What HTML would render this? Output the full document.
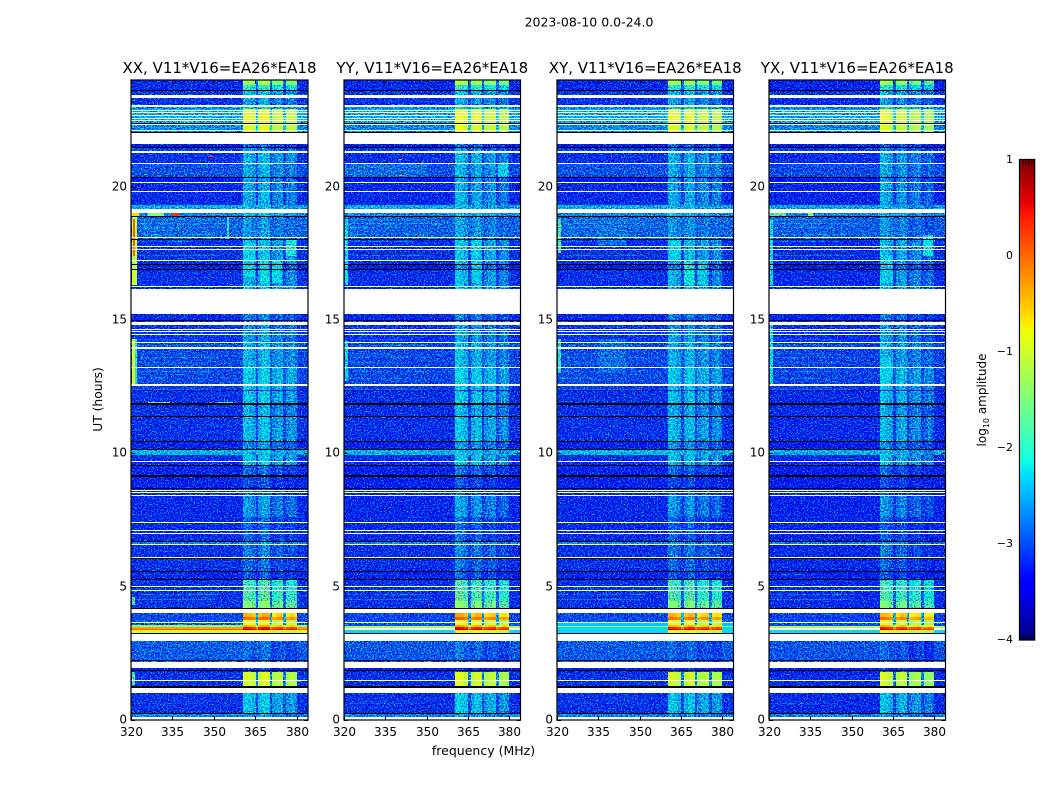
<!DOCTYPE html>
<html lang="en">
<head>
<meta charset="utf-8">
<title>2023-08-10 dynamic spectra</title>
<style>
html,body{margin:0;padding:0;background:#fff}
svg{display:block}
text{font-family:"DejaVu Sans","Liberation Sans",sans-serif;fill:#000}
</style>
</head>
<body>
<svg id="figure" xmlns="http://www.w3.org/2000/svg" width="1050" height="800" viewBox="0 0 1050 800">
  <defs id="defs"></defs>
  <text x="589" y="26.5" font-size="12.5" text-anchor="middle">2023-08-10 0.0-24.0</text>
  <text x="483.5" y="755" font-size="12.5" text-anchor="middle">frequency (MHz)</text>
  <text transform="translate(102,399.5) rotate(-90)" font-size="12.3" text-anchor="middle">UT (hours)</text>
  <text transform="translate(986,400) rotate(-90)" font-size="12" text-anchor="middle">log<tspan font-size="8" dy="3">10</tspan><tspan dy="-3"> amplitude</tspan></text>
</svg>
<script>
// ---- chart data ----
const panelTitles = ["XX, V11*V16=EA26*EA18", "YY, V11*V16=EA26*EA18", "XY, V11*V16=EA26*EA18", "YX, V11*V16=EA26*EA18"];
const freqTicks = [320, 335, 350, 365, 380];
const hourTicks = [0, 5, 10, 15, 20];
const colorbarTicks = [1, 0, -1, -2, -3, -4];
const freqRange = [320, 384];
const hourRange = [0, 24];
const levelRange = [-4, 1];

// Channel groups in MHz; class: o = out of band, g = gap, 0-3 = receiver block
const channelEdges = [320, 360.4, 362, 363.6, 365.1, 365.9, 367.4, 368.9, 370.2, 370.9, 372.3, 373.7, 375.1, 376.2, 377.5, 378.8, 379.9, 384];
const channelClass = ["o", 0, 0, 0, "g", 1, 1, 1, "g", 2, 2, 2, "g", 3, 3, 3, "o"];
const channelSubGain = [0, 0.08, 0.02, -0.1, 0, -0.08, 0.08, 0.03, 0, -0.1, 0.02, 0.08, 0, -0.05, 0.07, -0.05, 0];
const outOfBandRanges = [[320, 360.4], [379.9, 384]];

// Per-panel level offsets (log10 amplitude)
const panelOutOffset = [0, -0.02, 0, -0.05];
const panelInOffset = [0, 0.02, -0.02, -0.02];
const blockGain = [[0.05, 0.1, -0.1, -0.15], [0.1, 0, -0.1, -0.2], [0.05, 0.05, -0.1, -0.15], [0.05, -0.05, -0.2, -0.3]];

// [start hour, end hour, out-of-band level, in-band level]
const levelBands = [
  [0.00, 0.25, -2.7, -2.7], [0.25, 1.02, -3.2, -2.45], [1.02, 1.80, -3.2, -1.05], [1.80, 1.96, -3.35, -3.2],
  [1.96, 2.96, -2.95, -2.95], [2.96, 3.37, -0.9, -0.9], [3.37, 3.43, 0.1, 0.6], [3.43, 3.49, -0.3, 0.35],
  [3.49, 3.55, -1.4, -0.5], [3.55, 3.74, -3.0, -1.0], [3.74, 3.85, -3.05, -0.1], [3.85, 4.0, -3.05, -0.5],
  [4.0, 4.45, -3.2, -1.55], [4.45, 4.9, -3.2, -1.85], [4.9, 5.27, -3.2, -1.95], [5.27, 5.6, -3.3, -3.05],
  [5.6, 6.04, -3.2, -2.95], [6.04, 6.55, -3.2, -2.85], [6.55, 6.7, -2.7, -2.65], [6.7, 7.6, -3.25, -3.0],
  [7.6, 8.4, -3.25, -2.7], [8.4, 8.68, -3.25, -3.1], [8.68, 9.15, -3.3, -3.1], [9.15, 9.55, -3.3, -2.95],
  [9.55, 9.95, -3.2, -2.45], [9.95, 10.15, -2.45, -2.5], [10.15, 10.45, -3.3, -2.75], [10.45, 11.37, -3.2, -2.5],
  [11.37, 11.85, -3.2, -2.6], [11.85, 12.32, -3.2, -2.45], [12.32, 12.37, -3.75, -3.4], [12.37, 12.6, -3.15, -2.45],
  [12.6, 13.25, -3.05, -2.4], [13.25, 14.12, -3.05, -2.55], [14.12, 14.45, -3.2, -2.65], [14.45, 15.0, -3.15, -2.7],
  [15.0, 15.22, -3.25, -2.85], [15.22, 16.16, -3.2, -2.7], [16.16, 16.91, -3.2, -2.55], [16.91, 17.08, -3.35, -2.8],
  [17.08, 18.02, -3.2, -2.5], [18.02, 18.88, -2.9, -2.7], [18.88, 19.01, -2.7, -2.5], [19.01, 19.33, -2.5, -2.5],
  [19.33, 20.15, -3.25, -2.6], [20.15, 20.34, -3.4, -2.7], [20.34, 20.88, -3.0, -2.6], [20.88, 21.3, -3.2, -2.55],
  [21.3, 21.47, -3.1, -2.8], [21.47, 21.6, -3.4, -3.0], [21.6, 22.33, -2.7, -1.0], [22.33, 22.9, -2.5, -0.95],
  [22.9, 23.06, -2.7, -2.4], [23.06, 23.33, -3.2, -2.65], [23.33, 23.6, -3.15, -2.5], [23.6, 23.8, -3.25, -2.05],
  [23.8, 24.0, -3.25, -1.35]
];

// Per-panel out-of-band overrides: [panel, start hour, end hour, level]; null = blank
const outOfBandOverrides = [
  [1, 3.27, 3.39, -2.3], [1, 3.39, 3.45, null], [1, 3.45, 3.53, -1.2], [1, 3.53, 3.55, -3.0],
  [3, 3.27, 3.39, -2.3], [3, 3.39, 3.45, null], [3, 3.45, 3.53, -1.2], [3, 3.53, 3.55, -3.0],
  [2, 3.27, 3.47, -2.3], [2, 3.47, 3.53, -1.0], [2, 3.53, 3.62, -2.4]
];

// [panel, start hour, end hour, start MHz, end MHz, level]
const localPatches = [
  [0, 12.6, 14.3, 320.5, 321.3, -1.0], [0, 12.6, 14.3, 321.3, 322.2, -2.0], [0, 16.3, 18.85, 320.5, 322, -1.0], [0, 17, 18.8, 320.8, 321.3, 0.1],
  [0, 18.88, 19, 320, 323, -0.6], [0, 18.88, 19, 335, 337.5, 0.3], [0, 18.88, 19, 326, 332, -1.5], [0, 18.02, 18.85, 354.8, 355.3, -2.0],
  [0, 11.9, 11.93, 326, 334, -1.7], [0, 11.9, 11.93, 351, 357, -1.6], [0, 11.9, 11.93, 348.3, 349, 0],
  [0, 20.84, 20.87, 347, 351, -0.3], [0, 21.13, 21.16, 348, 350, 0.2], [0, 4.3, 4.6, 320.5, 321.5, -1.8],
  [0, 1.3, 1.8, 320.5, 321.5, -1.8], [0, 16.9, 17.4, 320.3, 321.5, -1.2],
  [0, 17.4, 18.0, 375.9, 379.6, -2.1], [0, 16.6, 17.9, 360.6, 364.8, -2.25], [0, 16.4, 17.2, 366.5, 369.5, -2.2], [0, 16.4, 17.2, 371, 374.5, -2.25],
  [1, 12.7, 14.2, 320.5, 321.3, -2.2], [1, 16.3, 18.8, 320.5, 321.3, -2.2], [1, 20.34, 20.88, 320, 350, -2.85],
  [1, 21.0, 21.03, 340, 341, -0.4], [1, 20.4, 20.43, 340, 341, -0.4], [1, 17.4, 18.0, 366, 369.5, -2.3],
  [1, 20.34, 20.88, 376, 379.6, -2.3], [1, 16.4, 17.2, 366.5, 369.5, -2.3],
  [2, 17.5, 18.8, 320.4, 321.6, -1.75], [2, 13, 14.3, 320.4, 321.6, -2.0], [2, 13, 14.3, 335, 345, -2.85],
  [2, 17.8, 18.8, 335, 345, -2.8], [2, 20.85, 20.88, 340, 343, -0.8], [2, 17.3, 18.0, 360.6, 364.8, -2.25],
  [2, 16.3, 17.2, 366, 369.5, -2.15], [2, 16.3, 17.2, 371, 374.5, -2.3],
  [3, 16.3, 18.8, 320.5, 321.3, -2.2], [3, 12.6, 14.8, 320.5, 321.3, -2.2],
  [3, 20.85, 20.88, 338, 340, -0.9], [3, 17.4, 18.2, 376, 379.6, -2.2], [3, 16.4, 17.4, 360.6, 364.8, -2.3],
  [3, 12.9, 13.6, 360.6, 364.8, -2.3], [3, 18.05, 18.08, 353, 353.5, -0.8], [3, 17.0, 17.03, 353, 353.5, -0.8],
  [3, 18.88, 19.0, 320, 326, -1.7], [3, 18.88, 19.0, 334, 336, -1.5]
];

// Thin streaks common to all panels: [hour, start MHz, end MHz, level]
const sharedStreaks = [
  [0.6, 320, 345, -3.0], [4.5, 320, 350, -2.8], [4.7, 320, 352, -2.85], [5.45, 320, 340, -3.05],
  [12.4, 320, 350, -2.85], [12.8, 320, 345, -2.85], [13.05, 322, 350, -2.8], [13.4, 322, 345, -2.85],
  [13.6, 322, 352, -2.8], [13.75, 322, 340, -2.85], [14.05, 322, 350, -2.85], [14.25, 322, 345, -2.9],
  [17.4, 322, 352, -2.85], [17.95, 322, 345, -2.85], [18.2, 322, 350, -2.7], [18.45, 322, 345, -2.7],
  [18.6, 322, 355, -2.65], [18.75, 322, 350, -2.65]
];

// Flagged (blank) time ranges, in hours
const whiteFlags = [
  [0, 0.11], [1.02, 1.2], [1.45, 1.49], [1.96, 2.19], [2.97, 3.22], [3.63, 3.66], [4.03, 4.16],
  [4.84, 4.88], [4.99, 5.03], [6.08, 6.12], [6.55, 6.59], [6.98, 7.01], [7.11, 7.14], [7.37, 7.41], [8.4, 8.44],
  [8.52, 8.56], [8.6, 8.64], [9.66, 9.73], [12.53, 12.55], [12.57, 12.6], [13.22, 13.25], [13.93, 13.97],
  [14.12, 14.16], [14.44, 14.47], [14.55, 14.59], [14.64, 14.68], [14.81, 14.92], [15.22, 16.16], [16.22, 16.26],
  [17.21, 17.25], [17.65, 17.68], [17.73, 17.76], [18.08, 18.11], [19.01, 19.16], [19.81, 19.84],
  [20.14, 20.17], [20.87, 20.9], [21.28, 21.32], [21.6, 22.01], [22.11, 22.14], [22.31, 22.35], [22.45, 22.49],
  [22.54, 22.58], [22.65, 22.69], [22.76, 22.8], [22.84, 22.88], [22.99, 23.06], [23.33, 23.44]
];

// Zero-amplitude (black) time ranges, in hours
const blackFlags = [
  [0.24, 0.26], [1.21, 1.28], [1.84, 1.88], [2.21, 2.25], [3.22, 3.27], [4.17, 4.2], [5.25, 5.29], [5.55, 5.6], [6.04, 6.06],
  [6.68, 6.71], [8.66, 8.7], [9.13, 9.17], [9.53, 9.56], [10.13, 10.16], [10.44, 10.46], [11.35, 11.4], [11.83, 11.87],
  [14.96, 15.0], [16.9, 16.93], [17.06, 17.1], [18.0, 18.04], [18.86, 18.9], [20.32, 20.36], [21.46, 21.49],
  [22.03, 22.05], [22.35, 22.39], [23.58, 23.62]
];

// Jet colormap anchors: [position, value]
const jetRed = [[0, 0], [0.35, 0], [0.66, 1], [0.89, 1], [1, 0.5]];
const jetGreen = [[0, 0], [0.125, 0], [0.375, 1], [0.64, 1], [0.91, 0], [1, 0]];
const jetBlue = [[0, 0.5], [0.11, 1], [0.34, 1], [0.65, 0], [1, 0]];

// ---- layout ----
const panelLefts = [131, 344, 557, 769];
const panelWidths = [177, 176.5, 176.5, 176.5];
const plotTop = 80;
const plotBottom = 720;
const cbarLeft = 1020;
const cbarRight = 1035;
const cbarTop = 160;
const cbarBottom = 640;
const NS = "http://www.w3.org/2000/svg";
const svg = document.getElementById("figure");
const defs = document.getElementById("defs");

function mk(tag, attrs, parent) {
  const el = document.createElementNS(NS, tag);
  for (const k in attrs) el.setAttribute(k, attrs[k]);
  parent.appendChild(el);
  return el;
}
function xScale(panel, f) {
  return panelLefts[panel] + (f - freqRange[0]) / (freqRange[1] - freqRange[0]) * panelWidths[panel];
}
function yScale(h) {
  return plotBottom - (h - hourRange[0]) / (hourRange[1] - hourRange[0]) * (plotBottom - plotTop);
}
function cbarScale(v) {
  return cbarBottom - (v - levelRange[0]) / (levelRange[1] - levelRange[0]) * (cbarBottom - cbarTop);
}
function interp(anchors, t) {
  for (let i = 1; i < anchors.length; i++) {
    if (t <= anchors[i][0]) {
      const a = anchors[i - 1], b = anchors[i];
      return a[1] + (b[1] - a[1]) * (t - a[0]) / (b[0] - a[0]);
    }
  }
  return anchors[anchors.length - 1][1];
}
function jet(level) {
  const t = Math.max(0, Math.min(1, (level - levelRange[0]) / (levelRange[1] - levelRange[0])));
  const c = [jetRed, jetGreen, jetBlue].map(function (a) { return Math.round(interp(a, t) * 255); });
  return "rgb(" + c.join(",") + ")";
}

// Fine-grain texture is a purely visual filter; it carries no chart values.
function addGrainFilter(id, seed) {
  const f = mk("filter", {id: id, x: 0, y: 0, width: 1, height: 1, "color-interpolation-filters": "sRGB"}, defs);
  mk("feTurbulence", {type: "fractalNoise", baseFrequency: "0.7", numOctaves: 2, seed: seed, result: "n"}, f);
  mk("feColorMatrix", {in: "n", type: "matrix", values: "0 0 0 0 0.5  1 0 0 0 0  0 0.7 0 0 0.15  0 0 0 0 1", result: "m"}, f);
  mk("feComposite", {in: "SourceGraphic", in2: "m", operator: "arithmetic", k1: 0, k2: 1, k3: 2.6, k4: -1.3, result: "a"}, f);
  mk("feComposite", {in: "a", in2: "SourceAlpha", operator: "in"}, f);
}

function timeRect(parent, x, width, h0, h1, fill) {
  const y0 = Math.round(yScale(h1));
  const y1 = Math.round(yScale(h0));
  return mk("rect", {x: x, y: y0, width: width, height: Math.max(1, y1 - y0), fill: fill, "shape-rendering": "crispEdges"}, parent);
}
function cell(parent, panel, f0, f1, h0, h1, level) {
  const x0 = Math.round(xScale(panel, f0));
  const x1 = Math.round(xScale(panel, f1));
  const r = timeRect(parent, x0, Math.max(1, x1 - x0), h0, h1, jet(level));
  
  
  return r;
}

panelTitles.forEach(function (title, p) {
  const left = panelLefts[p];
  const right = left + panelWidths[p];
  const panel = mk("g", {}, svg);
  
  

  addGrainFilter("grain-" + p, 5 + p * 7);
  addGrainFilter("grain-patch-" + p, 31 + p * 3);

  const noisy = mk("g", {filter: "url(#grain-" + p + ")"}, panel);
  
  
  const smooth = mk("g", {}, panel);
  
  
  const patchNoisy = mk("g", {filter: "url(#grain-patch-" + p + ")"}, panel);
  
  
  const patchSmooth = mk("g", {}, panel);
  
  

  levelBands.forEach(function (b) {
    const out = b[2] + panelOutOffset[p];
    const inb = b[3] + panelInOffset[p];
    channelClass.forEach(function (cls, c) {
      let level;
      if (cls === "o") level = out;
      else if (cls === "g") level = out + 0.2 * (inb - out);
      else level = inb + blockGain[p][cls] + channelSubGain[c];
      cell(level > -1.6 ? smooth : noisy, p, channelEdges[c], channelEdges[c + 1], b[0], b[1], level);
    });
  });

  sharedStreaks.forEach(function (s) {
    cell(patchNoisy, p, s[1], s[2], s[0], s[0] + 0.03, s[3]);
  });

  localPatches.forEach(function (q) {
    if (q[0] !== p) return;
    cell(q[5] > -1.6 ? patchSmooth : patchNoisy, p, q[3], q[4], q[1], q[2], q[5]);
  });

  outOfBandOverrides.forEach(function (o) {
    if (o[0] !== p) return;
    outOfBandRanges.forEach(function (rng) {
      if (o[3] === null) {
        const x0 = Math.round(xScale(p, rng[0]));
        const blank = timeRect(patchSmooth, x0, Math.round(xScale(p, rng[1])) - x0, o[1], o[2], "#fff");
        
        
      } else {
        cell(patchSmooth, p, rng[0], rng[1], o[1], o[2], o[3]);
      }
    });
  });

  whiteFlags.forEach(function (w) {
    const r = timeRect(panel, left, panelWidths[p], w[0], w[1], "#fff");
    
    
  });
  blackFlags.forEach(function (w) {
    const r = timeRect(panel, left, panelWidths[p], w[0], w[1], "#000");
    
    
  });

  const frame = mk("rect", {x: left, y: plotTop, width: panelWidths[p], height: plotBottom - plotTop, fill: "none", stroke: "#000", "stroke-width": 1.2}, panel);
  
  

  const titleEl = mk("text", {x: (left + right) / 2, y: 73, "font-size": 15, "text-anchor": "middle"}, panel);
  titleEl.textContent = title;
  
  

  freqTicks.forEach(function (t) {
    const x = Math.round(xScale(p, t)) + 0.5;
    const tickB = mk("line", {x1: x, x2: x, y1: plotBottom, y2: plotBottom - 4, stroke: "#000"}, panel);
    
    
    const tickT = mk("line", {x1: x, x2: x, y1: plotTop, y2: plotTop + 4, stroke: "#000"}, panel);
    
    
    const label = mk("text", {x: x, y: 736, "font-size": 12, "text-anchor": "middle"}, panel);
    label.textContent = t;
    
    
  });

  hourTicks.forEach(function (t) {
    const y = Math.round(yScale(t)) + 0.5;
    const tickL = mk("line", {x1: left, x2: left + 4, y1: y, y2: y, stroke: "#000"}, panel);
    
    
    const tickR = mk("line", {x1: right, x2: right - 4, y1: y, y2: y, stroke: "#000"}, panel);
    
    
    const label = mk("text", {x: left - 4, y: y + 3.2, "font-size": 12, "text-anchor": "end"}, panel);
    label.textContent = t;
    
    
  });
});

// ---- colorbar ----
const cbar = mk("g", {}, svg);


for (let py = cbarTop; py < cbarBottom; py++) {
  const v = levelRange[1] - (py + 0.5 - cbarTop) / (cbarBottom - cbarTop) * (levelRange[1] - levelRange[0]);
  const s = mk("rect", {x: cbarLeft, y: py, width: cbarRight - cbarLeft, height: 1, fill: jet(v), "shape-rendering": "crispEdges"}, cbar);
  
  
}
const cbarHalo = mk("rect", {x: cbarLeft - 1, y: cbarTop - 1, width: cbarRight - cbarLeft + 1.5, height: cbarBottom - cbarTop + 1.5, fill: "none", stroke: "#bbb", "stroke-width": 1}, cbar);


const cbarFrame = mk("rect", {x: cbarLeft - 0.5, y: cbarTop - 0.5, width: cbarRight - cbarLeft, height: cbarBottom - cbarTop + 0.5, fill: "none", stroke: "#000", "stroke-width": 1}, cbar);


for (let k = 1; k < 5; k++) {
  const x = cbarLeft + k * (cbarRight - cbarLeft) / 5;
  const mt = mk("line", {x1: x, x2: x, y1: cbarTop, y2: cbarTop + 5, stroke: "#000"}, cbar);
  
  
  const mb = mk("line", {x1: x, x2: x, y1: cbarBottom, y2: cbarBottom - 5, stroke: "#000"}, cbar);
  
  
}
colorbarTicks.forEach(function (t) {
  const label = mk("text", {x: 1013, y: cbarScale(t) + 3, "font-size": 11, "text-anchor": "end"}, cbar);
  label.textContent = t < 0 ? "\u2212" + Math.abs(t) : String(t);
  
  
});
const dots = mk("text", {x: 1017, y: 647, "font-size": 6, "letter-spacing": "1"}, cbar);
dots.textContent = "......";


dots.style.fill = "#999";
</script>
</body>
</html>
